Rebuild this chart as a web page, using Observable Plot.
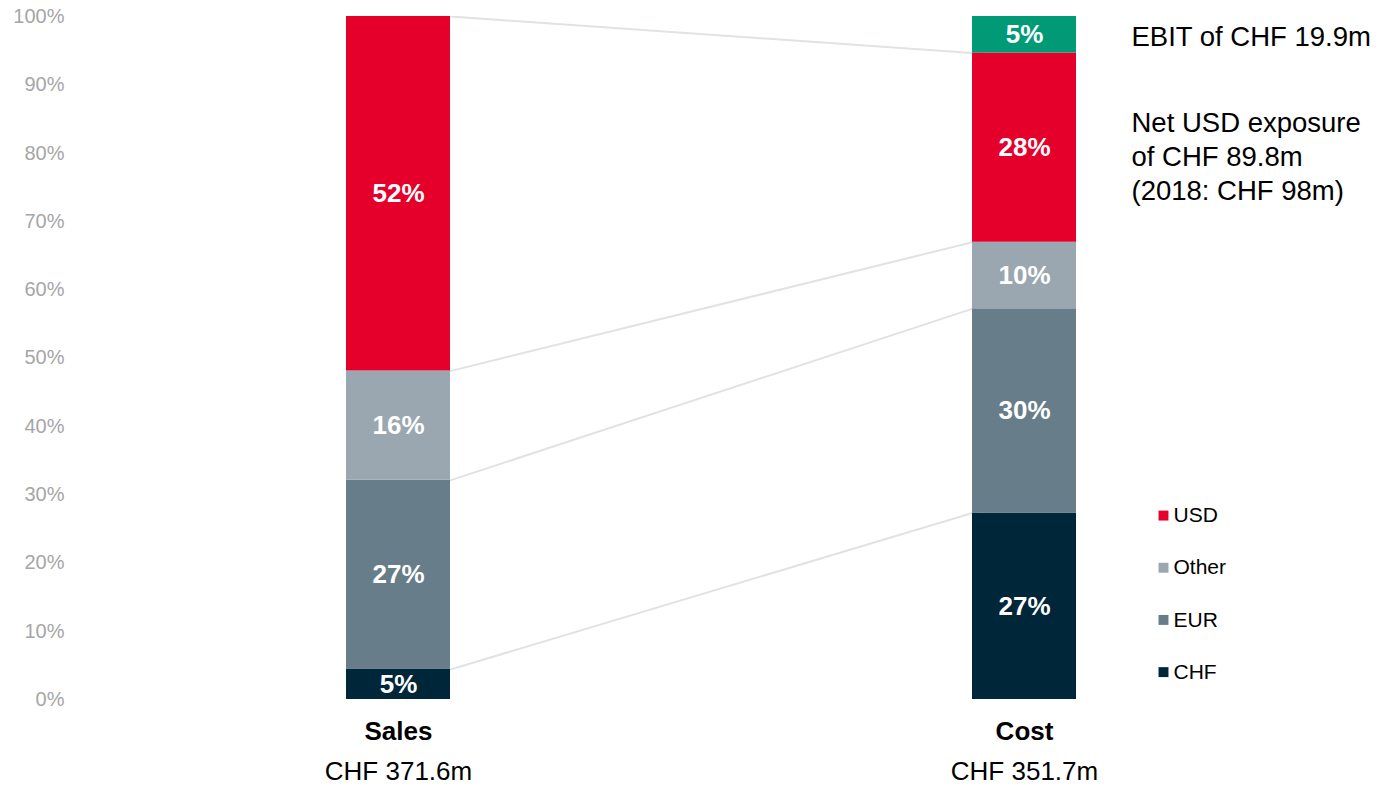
<!DOCTYPE html>
<html>
<head>
<meta charset="utf-8">
<script src="https://cdn.jsdelivr.net/npm/d3@7"></script>
<script src="https://cdn.jsdelivr.net/npm/@observablehq/plot@0.6"></script>
<style>
  html, body { margin: 0; padding: 0; background: #fff; }
  #chart svg { display: block; }
</style>
</head>
<body>
<div id="chart"></div>
<script>
// ---- data ----
const categories = ["Sales", "Cost"];
const totals = ["CHF 371.6m", "CHF 351.7m"];
const currencies = ["CHF", "EUR", "Other", "USD", "EBIT"];
const salesShares = [4.4, 27.7, 16.0, 51.9];
const costShares = [27.3, 29.9, 9.75, 27.7, 5.35];
const salesLabels = ["5%", "27%", "16%", "52%"];
const costLabels = ["27%", "30%", "10%", "28%", "5%"];
const colors = ["#00263a", "#677d89", "#9aa7b0", "#e4002b", "#009a77"];
const legendItems = ["USD", "Other", "EUR", "CHF"];
const annotations = ["EBIT of CHF 19.9m", "Net USD exposure\nof CHF 89.8m\n(2018: CHF 98m)"];
const yTicks = [0, 10, 20, 30, 40, 50, 60, 70, 80, 90, 100];

// ---- build table ----
const rows = [];
salesShares.forEach((v, i) => rows.push({cat: "Sales", cur: currencies[i], value: v, label: salesLabels[i]}));
costShares.forEach((v, i) => rows.push({cat: "Cost", cur: currencies[i], value: v, label: costLabels[i]}));

// layout of the band scale
const paddingInner = 0.8333, paddingOuter = 0.4386;
// connectors join the cumulative tops of matching currency blocks at the bar edges;
// they are drawn centre-to-centre (hidden under the bars), so extend them past the edges
const k = 0.5 * (1 - paddingInner) / paddingInner;
const salesCum = d3.cumsum(salesShares);
const costCum = d3.cumsum(costShares);
const links = currencies.slice(0, 4).map((c, i) => {
  const a = salesCum[i], b = costCum[i];
  return {cur: c, y1: a - k * (b - a), y2: b + k * (b - a)};
});

const font = "'Liberation Sans', Arial, Helvetica, sans-serif";
const legendTop = 26.93, legendStep = 7.64;

const chart = Plot.plot({
  width: 1378,
  height: 786,
  marginLeft: 70,
  marginRight: 26.5,
  marginTop: 16,
  marginBottom: 87,
  style: {fontFamily: font, fontSize: "20px", background: "#fff", overflow: "visible"},
  x: {domain: categories, paddingInner, paddingOuter, axis: null},
  y: {domain: [0, 100], axis: null},
  color: {domain: currencies, range: colors},
  marks: [
    Plot.axisY({ticks: yTicks, tickFormat: d => d + "%", tickSize: 0, tickPadding: 6,
      fill: "#a6a6a6", fontSize: 20, fontFamily: font}),
    Plot.link(links, {x1: () => "Sales", x2: () => "Cost", y1: "y1", y2: "y2",
      stroke: "#dfe3e6", strokeWidth: 2, clip: true}),
    Plot.barY(rows, {x: "cat", y: "value", z: "cur", fill: "cur", order: null}),
    Plot.text(rows, Plot.stackY({x: "cat", y: "value", z: "cur", text: "label", order: null,
      fill: "white", fontWeight: "bold", fontSize: 26, fontFamily: font})),
    // category labels
    Plot.text(categories, {x: d => d, frameAnchor: "bottom", lineAnchor: "middle", dy: 32, text: d => d,
      fontWeight: "bold", fontSize: 26, fill: "#000", fontFamily: font}),
    Plot.text(categories, {x: d => d, frameAnchor: "bottom", lineAnchor: "middle", dy: 72, text: (d, i) => totals[i],
      fontSize: 26, fill: "#000", fontFamily: font}),
    // annotations
    Plot.text([annotations[0]], {x: () => "Cost", frameAnchor: "top", lineAnchor: "middle", dx: 107, dy: 21,
      text: d => d, textAnchor: "start", fontSize: 27.5, fill: "#000", fontFamily: font}),
    Plot.text([annotations[1]], {x: () => "Cost", frameAnchor: "top", lineAnchor: "middle", dx: 107, dy: 139,
      text: d => d, textAnchor: "start", lineHeight: 1.236, fontSize: 27.5, fill: "#000", fontFamily: font}),
    // legend
    Plot.dot(legendItems, {x: () => "Cost", y: (d, i) => legendTop - i * legendStep, dx: 139,
      symbol: "square", r: 5.6, fill: d => d, stroke: null}),
    Plot.text(legendItems, {x: () => "Cost", y: (d, i) => legendTop - i * legendStep, dx: 149,
      text: d => d, textAnchor: "start", fontSize: 21, fill: "#000", fontFamily: font})
  ]
});
document.getElementById("chart").appendChild(chart);
</script>
</body>
</html>
